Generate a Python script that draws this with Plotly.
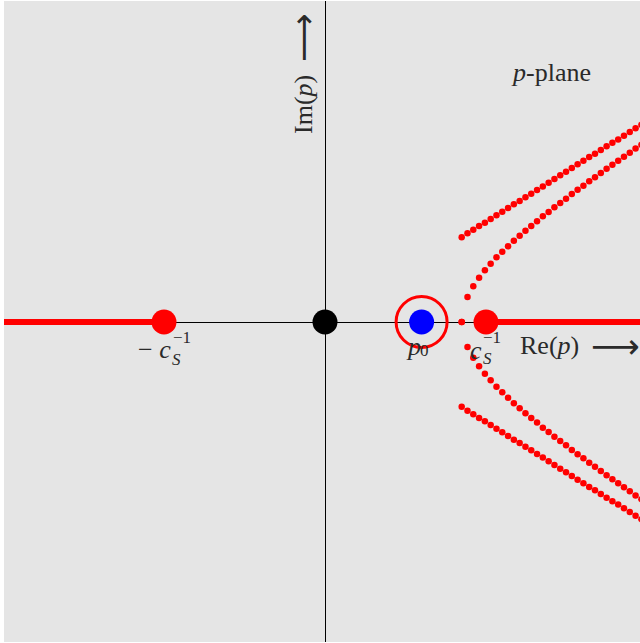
import plotly.graph_objects as go

# ---- data (complex p-plane, units of c_S^-1) ----
c_inv = 1.0
p0 = 0.6
branch_x = [0.849, 0.885, 0.921, 0.957, 0.993, 1.029, 1.065, 1.101, 1.137, 1.173,
            1.209, 1.245, 1.281, 1.317, 1.353, 1.389, 1.425, 1.461, 1.497, 1.533,
            1.569, 1.605, 1.641, 1.677, 1.713, 1.749, 1.785, 1.821, 1.857, 1.893,
            1.929, 1.965, 2.001]
outer_y = [0.526, 0.551, 0.573, 0.596, 0.617, 0.640, 0.663, 0.685, 0.708, 0.731,
           0.752, 0.775, 0.797, 0.820, 0.842, 0.865, 0.888, 0.911, 0.934, 0.957,
           0.980, 1.002, 1.025, 1.045, 1.068, 1.091, 1.113, 1.134, 1.157, 1.180,
           1.203, 1.225, 1.248]
inner_y = [0.000, 0.155, 0.222, 0.275, 0.321, 0.362, 0.402, 0.437, 0.470, 0.505,
           0.536, 0.567, 0.596, 0.625, 0.657, 0.683, 0.712, 0.739, 0.766, 0.795,
           0.822, 0.847, 0.874, 0.899, 0.925, 0.952, 0.977, 1.002, 1.027, 1.052,
           1.077, 1.101, 1.126]
cut_left_x = [-2.5, -c_inv]
cut_right_x = [c_inv, 2.5]

RED = "#ff0000"
fig = go.Figure()

# branch cuts
for xs in (cut_left_x, cut_right_x):
    fig.add_trace(go.Scatter(x=xs, y=[0, 0], mode="lines",
                             line=dict(color=RED, width=6), hoverinfo="skip"))

# dotted curves (upper and mirrored lower)
for ys in (outer_y, inner_y):
    fig.add_trace(go.Scatter(x=branch_x, y=ys, mode="markers",
                             marker=dict(color=RED, size=6.5, line=dict(width=0))))
    fig.add_trace(go.Scatter(x=branch_x, y=[-v for v in ys], mode="markers",
                             marker=dict(color=RED, size=6.5, line=dict(width=0))))

# special points
fig.add_trace(go.Scatter(x=[-c_inv, c_inv], y=[0, 0], mode="markers",
                         marker=dict(color=RED, size=25, line=dict(width=0))))
fig.add_trace(go.Scatter(x=[0], y=[0], mode="markers",
                         marker=dict(color="black", size=25, line=dict(width=0))))
fig.add_trace(go.Scatter(x=[p0], y=[0], mode="markers",
                         marker=dict(color="#0000ff", size=25, line=dict(width=0))))
fig.add_trace(go.Scatter(x=[p0], y=[0], mode="markers",
                         marker=dict(symbol="circle-open", color=RED, size=51,
                                     line=dict(color=RED, width=3))))

FONT = "Liberation Serif"
TC = "#2a2a2a"
def ann(x, y, text, size=26, family=FONT, **kw):
    fig.add_annotation(x=x, y=y, xref="x", yref="y", text=text, showarrow=False,
                       font=dict(family=family, size=size, color=TC), **kw)

ann(1.404, 1.547, "<i>p</i>-plane")
ann(-0.137, 1.354, "Im(<i>p</i>)", textangle=-90)
ann(-0.137, 1.770, "⟶", size=34, family="DejaVu Sans", textangle=-90)
ann(1.199, -0.149, "Re(<i>p</i>)", xanchor="left")
ann(1.807, -0.149, "⟶", size=34, family="DejaVu Sans")
ann(0.575, -0.150, "<i>p</i>", xshift=-4)
ann(0.618, -0.180, "0", size=17)
# c_S^-1
ann(0.938, -0.180, "<i>c</i>")
ann(1.040, -0.099, "−1", size=17)
ann(1.009, -0.224, "<i>S</i>", size=17)
# -c_S^-1
ann(-1.062, -0.168, "− <i>c</i>")
ann(-0.888, -0.099, "−1", size=17)
ann(-0.925, -0.230, "<i>S</i>", size=17)

axis_common = dict(showgrid=False, showticklabels=False, ticks="", showline=False,
                   zeroline=True, zerolinecolor="black", zerolinewidth=1,
                   fixedrange=True)
fig.update_xaxes(range=[-1.9938, 1.9565], **axis_common)
fig.update_yaxes(range=[-1.9876, 1.9938], **axis_common)
fig.update_layout(width=640, height=643, showlegend=False,
                  margin=dict(l=4, r=0, t=1, b=1, pad=0),
                  plot_bgcolor="#e5e5e5", paper_bgcolor="white")
fig.write_html("out.html")
